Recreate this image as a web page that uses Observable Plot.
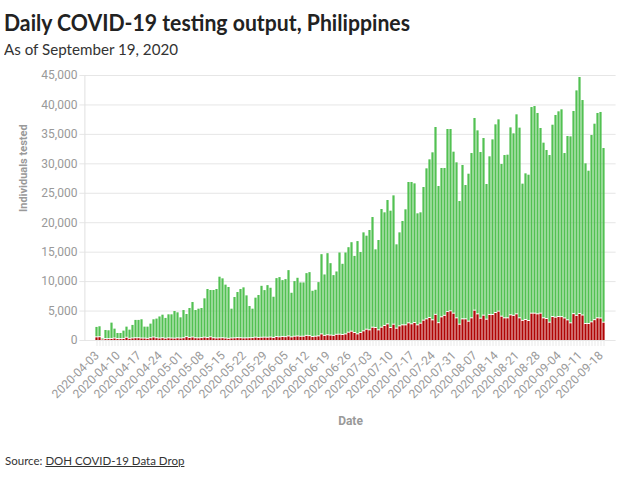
<!DOCTYPE html>
<html>
<head>
<meta charset="utf-8">
<script src="https://cdn.jsdelivr.net/npm/d3@7"></script>
<script src="https://cdn.jsdelivr.net/npm/@observablehq/plot@0.6"></script>
<style>
  body { margin: 0; background: #fff; }
  #wrap { position: relative; width: 628px; height: 478px; overflow: hidden; font-family: Lato, sans-serif; }
  #title { position: absolute; left: 4px; top: 9px; font: bold 22px Lato, sans-serif; color: #222; white-space: nowrap; transform-origin: 0 0; }
  #subtitle { position: absolute; left: 4px; top: 40px; font: 15px Lato, sans-serif; color: #333; white-space: nowrap; transform-origin: 0 0; }
  #chart { position: absolute; left: 0; top: 62px; }
  #source { position: absolute; left: 5px; top: 454px; font: 11.5px Lato, sans-serif; color: #333; white-space: nowrap; }
  #source a { color: #333; text-decoration: underline; }
</style>
</head>
<body>
<div id="wrap">
  <div id="title">Daily COVID-19 testing output, Philippines</div>
  <div id="subtitle">As of September 19, 2020</div>
  <div id="chart"></div>
  <div id="source">Source: <a href="#">DOH COVID-19 Data Drop</a></div>
</div>
<script>
// One bar per day, 3 April to 19 September 2020
const fmt = d3.utcFormat("%Y-%m-%d");
const dates = d3.utcDay.range(new Date(Date.UTC(2020, 3, 3)), new Date(Date.UTC(2020, 8, 20))).map(fmt);

// Individuals tested per day (whole bar)
const tested = [
  2220, 2330, 340, 1700, 1650, 2950, 1930, 1190, 1190, 1590,
  2270, 1760, 2560, 3410, 3410, 3520, 2270, 2270, 2780, 3520,
  3635, 4000, 4300, 3750, 4360, 4360, 4925, 4700, 3850, 5090,
  4415, 5430, 6450, 5090, 5320, 5430, 7075, 8660, 8490, 8490,
  8660, 10750, 10470, 9400, 9000, 5320, 7300, 8150, 8660, 8940,
  7580, 5770, 5320, 7190, 7640, 9200, 8475, 9320, 8870, 7345,
  10510, 10680, 10170, 10340, 11865, 8020, 10000, 10565, 9775, 9775,
  11355, 11525, 8360, 8530, 9830, 14575, 11130, 14745, 13050, 11020,
  11640, 14860, 12940, 14860, 15760, 16610, 14280, 16800, 14940, 18280,
  17715, 18680, 20885, 15395, 16980, 22245, 21680, 23770, 21960, 24560,
  16245, 18280, 20210, 22190, 26830, 26830, 26600, 21510, 21680, 25980,
  29150, 30680, 31870, 36170, 26150, 29210, 29210, 35830, 35830, 31980,
  30170, 23600, 29720, 26320, 28240, 31750, 37700, 35600, 31920, 34300,
  26490, 31190, 34070, 36620, 37470, 29890, 31410, 31470, 36110, 35090,
  38320, 36060, 26550, 28300, 28070, 39560, 39730, 38550, 36000, 33510,
  32260, 31410, 36560, 38210, 38830, 39170, 31750, 34640, 34580, 38890,
  42390, 44660, 40750, 30000, 28750, 34810, 36730, 38550, 38720, 32600
];

// Positive results per day (red part at the bottom of each bar)
const positive = [
  450, 470, 80, 150, 150, 180, 250, 160, 150, 180,
  380, 200, 260, 300, 300, 250, 240, 200, 300, 420,
  300, 250, 300, 220, 280, 250, 230, 280, 250, 300,
  480, 350, 420, 300, 280, 320, 400, 330, 450, 300,
  260, 280, 300, 250, 200, 260, 280, 320, 300, 270,
  280, 300, 320, 400, 350, 380, 400, 380, 420, 350,
  500, 450, 520, 480, 600, 450, 560, 600, 550, 560,
  700, 650, 500, 560, 620, 950, 700, 800, 750, 700,
  880, 900, 850, 950, 1240, 1410, 1190, 960, 1190, 1470,
  1750, 1640, 2090, 2040, 1640, 2090, 2380, 2660, 2040, 2600,
  1920, 2320, 2490, 2490, 2830, 2660, 2890, 2490, 2770, 3280,
  3510, 3740, 3340, 4270, 2860, 3850, 4100, 4750, 4870, 4470,
  3680, 2600, 3510, 3510, 3110, 3680, 4980, 4360, 3620, 4130,
  3450, 4250, 4250, 4580, 4810, 3960, 3680, 3680, 4190, 4100,
  4360, 3680, 3250, 3400, 3230, 4470, 4470, 4360, 4470, 3680,
  3570, 2940, 3900, 3790, 3900, 3880, 3660, 3340, 2830, 4390,
  4100, 4420, 4160, 2720, 2720, 3000, 3370, 3680, 3650, 2940
];

// Labelled dates on the x axis (weekly)
const xTickLabels = [
  "2020-04-03", "2020-04-10", "2020-04-17", "2020-04-24", "2020-05-01",
  "2020-05-08", "2020-05-15", "2020-05-22", "2020-05-29", "2020-06-05",
  "2020-06-12", "2020-06-19", "2020-06-26", "2020-07-03", "2020-07-10",
  "2020-07-17", "2020-07-24", "2020-07-31", "2020-08-07", "2020-08-14",
  "2020-08-21", "2020-08-28", "2020-09-04", "2020-09-11", "2020-09-18"
];
const yTicks = [0, 5000, 10000, 15000, 20000, 25000, 30000, 35000, 40000, 45000];

const rows = dates.map((date, i) => ({date, tested: tested[i], positive: positive[i]}));

const red = "#b00404";
const green = "#52c152";

const chart = Plot.plot({
  width: 628,
  height: 375,
  marginLeft: 84.4,
  marginRight: 12.4,
  marginTop: 13,
  marginBottom: 97,
  style: {fontFamily: "Roboto, sans-serif", fontSize: "12px", background: "#fff", overflow: "visible"},
  x: {type: "band", domain: dates, padding: 0, axis: null},
  y: {domain: [0, 45000], axis: null},
  marks: [
    Plot.gridY({ticks: yTicks, stroke: "#e6e6e6", strokeOpacity: 1}),
    Plot.axisY({ticks: yTicks, tickSize: 5, tickPadding: 2.5, stroke: "#e6e6e6", fill: "#999",
      tickFormat: d3.format(","), label: null, fontSize: 12}),
    Plot.axisX({ticks: dates, tickSize: 6, tickFormat: () => "", stroke: "#e9e9e9", label: null}),
    Plot.axisX({ticks: xTickLabels, tickSize: 0, tickPadding: 13, tickRotate: -45, fill: "#999",
      label: null, fontSize: 12}),
    Plot.barY(rows, {x: "date", y1: 0, y2: "positive", fill: red, insetLeft: 0.4, insetRight: 0.4}),
    Plot.barY(rows, {x: "date", y1: "positive", y2: "tested", fill: green, insetLeft: 0.4, insetRight: 0.4, insetBottom: 1}),
    Plot.frame({anchor: "left", stroke: "#e0e0e0"}),
    Plot.text(["Date"], {frameAnchor: "bottom", dy: 84, fontWeight: "bold", fill: "#999", fontSize: 12}),
    Plot.text(["Individuals tested"], {frameAnchor: "left", dx: -61.4, dy: 4, rotate: -90,
      fontWeight: "bold", fill: "#999", fontSize: 11})
  ]
});
document.getElementById("chart").append(chart);

// Fit the heading lines to their set widths
function fitWidth(id, w) {
  const el = document.getElementById(id);
  const r = el.getBoundingClientRect().width;
  if (r > 0) el.style.transform = `scaleX(${w / r})`;
}
fitWidth("title", 406);
fitWidth("subtitle", 174);
</script>
</body>
</html>
